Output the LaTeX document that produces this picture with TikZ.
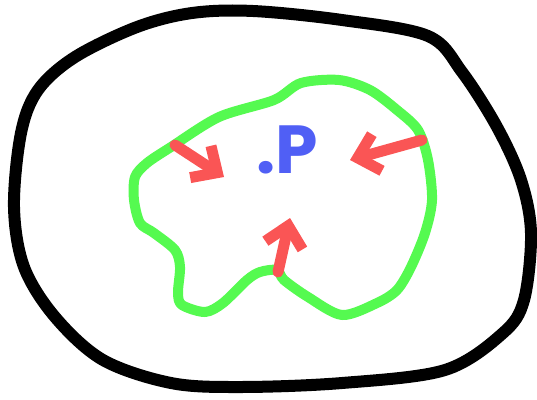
\documentclass[tikz,border=0pt]{standalone}
\usepackage{fontspec}
\newfontfamily\sketchfont{Poppins}
\usetikzlibrary{arrows.meta}
\definecolor{sketchred}{RGB}{250,85,85}
\definecolor{sketchgreen}{RGB}{85,250,80}
\definecolor{sketchblue}{RGB}{80,95,245}
\tikzset{
  outline/.style={line width=12pt, line join=round, line cap=round},
  region/.style={draw=sketchgreen, line width=10pt, line join=round},
  push/.style={draw=sketchred, line width=11pt, line cap=round, line join=round,
    -{Straight Barb[length=20pt,width=38pt]}},
}
\begin{document}
\begin{tikzpicture}[x=1pt,y=-1pt]
\useasboundingbox (0,0) rectangle (537,399);
\draw [outline] plot [smooth cycle, tension=.55] coordinates {(253,11) (342,20) (428,36) (462,72) (497,127) (521,180) (531,233) (524,300) (503,333) (445,370) (342,383) (240,387) (171,383) (103,360) (55,317) (24,267) (14,207) (21,133) (38,90) (75,57) (137,27) (192,13)};
\draw [region] plot [smooth cycle, tension=.5] coordinates {(171,147) (219,117) (274,100) (301,83) (339,80) (370,90) (397,110) (418,130) (428,160) (432,200) (425,233) (411,267) (397,290) (377,303) (342,315) (308,297) (284,280) (277,270) (260,272) (247,280) (223,303) (205,312) (182,305) (178,293) (180,267) (175,250) (154,233) (140,223) (134,200) (135,177) (147,163)};
\node [anchor=base, inner sep=0, text=sketchblue, font=\sketchfont\bfseries\fontsize{68}{68}\selectfont] (p) at (287,173) {.P};
\coordinate (a1) at (175,145);
\coordinate (b1) at (224,177);
\coordinate (a2) at (422,140);
\coordinate (b2) at (350,160);
\coordinate (a3) at (278,272);
\coordinate (b3) at (290,218);
\draw [push] (a1) -- (b1);
\draw [push] (a2) -- (b2);
\draw [push] (a3) -- (b3);
\end{tikzpicture}
\end{document}
